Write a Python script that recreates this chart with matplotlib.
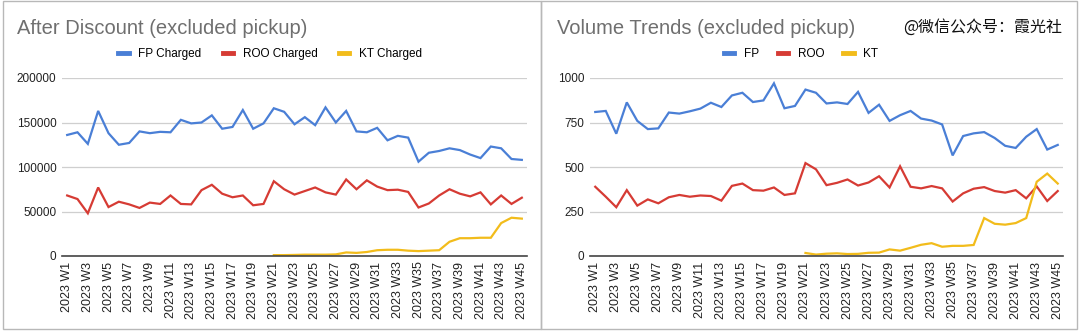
import numpy as np
import matplotlib
matplotlib.use("Agg")
import matplotlib.pyplot as plt
from matplotlib.patches import Rectangle
from matplotlib.lines import Line2D

plt.rcParams['font.family'] = ['Liberation Sans', 'Noto Sans CJK SC', 'DejaVu Sans']

weeks = ["2023 W%d" % i for i in range(1, 46)]

# After Discount (excluded pickup)
fp_charged = [136000, 139000, 126000, 163000, 138000, 125000, 127000, 140000, 138000, 139500,
              139000, 153000, 149000, 150000, 158000, 143000, 145000, 164000, 143000, 149000,
              166000, 162000, 148000, 156000, 147000, 167000, 150000, 163000, 140000, 139000,
              144000, 130000, 135000, 133000, 106000, 116000, 118000, 121000, 119000, 114000,
              110000, 123000, 121000, 109000, 108000]
roo_charged = [68000, 64000, 48000, 77000, 55000, 61000, 58000, 54000, 60000, 58500,
               68000, 58500, 58000, 74000, 80000, 70000, 66000, 68000, 57000, 58500,
               84000, 75000, 69000, 73000, 77000, 71500, 69000, 86000, 75000, 85000,
               78000, 74000, 74500, 72000, 54500, 59000, 68000, 75000, 70000, 67000,
               71500, 58000, 68000, 58500, 65500]
kt_charged = [np.nan] * 20 + [1000, 1000, 1200, 1500, 1500, 1500, 1800, 4000, 3500, 4500,
                              6500, 7000, 7000, 6000, 5500, 6000, 6500, 16000, 20000, 20000,
                              20500, 20500, 37000, 43000, 42000]

# Volume Trends (excluded pickup)
fp_vol = [809, 815, 687, 863, 759, 713, 717, 806, 800, 813,
          828, 861, 837, 902, 917, 865, 874, 970, 830, 843,
          935, 917, 857, 863, 854, 922, 804, 850, 759, 791,
          815, 772, 761, 739, 565, 674, 689, 696, 663, 619,
          607, 670, 713, 598, 624]
roo_vol = [389, 333, 274, 370, 283, 318, 296, 330, 343, 333,
           340, 337, 311, 394, 407, 370, 367, 385, 343, 352,
           522, 487, 398, 411, 430, 396, 413, 448, 385, 504,
           389, 380, 393, 380, 306, 352, 378, 387, 365, 356,
           370, 324, 391, 309, 365]
kt_vol = [np.nan] * 20 + [17, 8, 13, 15, 11, 12, 18, 19, 37, 30,
                          46, 63, 72, 52, 57, 57, 62, 213, 181, 176,
                          185, 213, 417, 463, 407]

BLUE, RED, YELLOW = "#4a7fd6", "#d63b34", "#f2bc1b"

fig = plt.figure(figsize=(10.8, 3.36), dpi=100)
W, H = 1080.0, 336.0

# panel frames
for x0, x1 in [(3, 541), (541, 1077)]:
    fig.patches.append(Rectangle((x0 / W, 1 - 329 / H), (x1 - x0) / W, 328 / H,
                                 transform=fig.transFigure, fill=False,
                                 edgecolor="#b8b8b8", lw=1.0))


def panel(left, right, series, labels, ymax, yticks, title, title_x, leg_x, colsp):
    ax = fig.add_axes([left / W, 1 - 256 / H, (right - left) / W, (256 - 78) / H])
    x = np.arange(len(weeks))
    for vals, c in zip(series, [BLUE, RED, YELLOW]):
        ax.plot(x, vals, color=c, lw=1.6, solid_joinstyle="miter")
    ax.set_xlim(-0.5, len(weeks) - 0.5)
    ax.set_ylim(0, ymax)
    ax.set_yticks(yticks)
    ax.set_yticklabels([str(v) for v in yticks])
    ax.set_xticks(x[::2])
    ax.set_xticklabels(weeks[::2], rotation=90, va="top", ha="center")
    ax.tick_params(axis="both", length=0, labelsize=8.5, colors="#222222")
    ax.tick_params(axis="x", labelsize=9, pad=4)
    ax.tick_params(axis="y", pad=4)
    ax.grid(axis="y", color="#cfcfcf", lw=0.9)
    ax.set_axisbelow(True)
    for s in ["left", "right", "top"]:
        ax.spines[s].set_visible(False)
    ax.spines["bottom"].set_color("#444444")
    ax.spines["bottom"].set_linewidth(1.2)
    fig.text(title_x / W, 1 - 28 / H, title, fontsize=14.5, color="#6f6f6f",
             ha="left", va="center")
    handles = [Line2D([], [], color=c, lw=3.5) for c in [BLUE, RED, YELLOW]]
    fig.legend(handles, labels, loc="center", bbox_to_anchor=(leg_x / W, 1 - 54 / H),
               ncol=3, frameon=False, fontsize=8.5, handlelength=0.9,
               handletextpad=0.8, columnspacing=colsp)
    return ax


panel(62, 527, [fp_charged, roo_charged, kt_charged],
      ["FP Charged", "ROO Charged", "KT Charged"], 200000,
      [0, 50000, 100000, 150000, 200000],
      "After Discount (excluded pickup)", 17, 270, 1.8)
panel(590, 1063, [fp_vol, roo_vol, kt_vol], ["FP", "ROO", "KT"], 1000,
      [0, 250, 500, 750, 1000],
      "Volume Trends (excluded pickup)", 557, 801, 1.6)

fig.text(903 / W, 1 - 27 / H, "@微信公众号：霞光社", fontsize=11.5, color="#111111",
         ha="left", va="center", family=["Noto Sans CJK SC", "DejaVu Sans"])

fig.savefig("out.png", dpi=100)
